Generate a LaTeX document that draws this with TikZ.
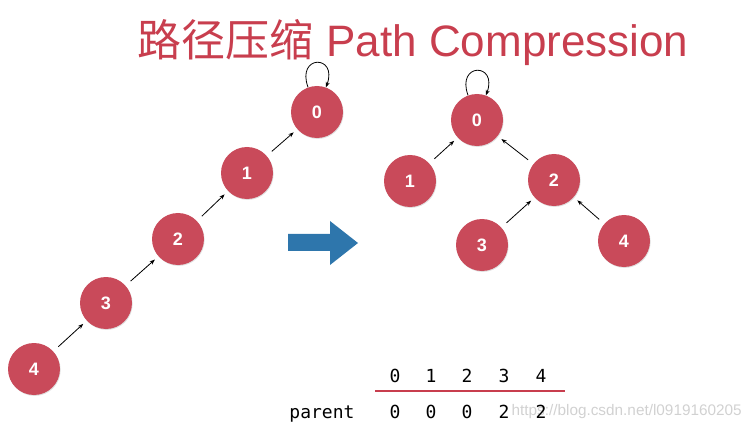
\documentclass[tikz,border=0pt]{standalone}
\usepackage{fontspec}
\setmainfont{Liberation Sans}
\setmonofont{DejaVu Sans Mono}
\newfontfamily\cjkfont{Noto Sans CJK SC}
\usetikzlibrary{arrows.meta,shadows}
\definecolor{nodered}{RGB}{201,74,90}
\definecolor{titlered}{RGB}{200,62,78}
\definecolor{arrowblue}{RGB}{46,118,172}

\begin{document}
\begin{tikzpicture}[x=0.75pt,y=-0.75pt,
  elem/.style={circle,fill=nodered,minimum size=39pt,inner sep=0pt,text=white,
    font=\fontsize{13.5}{15}\selectfont\bfseries,
    drop shadow={shadow xshift=0.5pt,shadow yshift=-0.7pt,opacity=0.25}},
  link/.style={-{Stealth[length=4pt,width=3pt]},line width=0.6pt,shorten <=5pt,shorten >=3.5pt},
  selfloop/.style={-{Stealth[length=4pt,width=3pt]},line width=0.6pt},
  cell/.style={font=\fontsize{13.5}{15}\selectfont\ttfamily,anchor=base,inner sep=0pt}]
  \useasboundingbox (0,0) rectangle (751,428);

  % title
  \node[anchor=base west,text=titlered,font=\fontsize{33}{36}\selectfont,inner sep=0pt]
    (title) at (137,57) {{\cjkfont 路径压缩}\hspace{0.3em}Path Compression};

  % before: a chain
  \node[elem] (a0) at (317,112) {0};
  \node[elem] (a1) at (247,173) {1};
  \node[elem] (a2) at (178,239) {2};
  \node[elem] (a3) at (106,303) {3};
  \node[elem] (a4) at (34,369) {4};
  \draw[link] (a4) -- (a3);
  \draw[link] (a3) -- (a2);
  \draw[link] (a2) -- (a1);
  \draw[link] (a1) -- (a0);
  \draw[selfloop] (a0.110) to[out=110,in=70,looseness=5] (a0.70);

  % big arrow
  \fill[arrowblue] (288,234) -- (330,234) -- (330,221) -- (358,243)
    -- (330,265) -- (330,251) -- (288,251) -- cycle;

  % after: flat tree
  \node[elem] (b0) at (477,120) {0};
  \node[elem] (b1) at (410,181) {1};
  \node[elem] (b2) at (554,180) {2};
  \node[elem] (b3) at (482,245) {3};
  \node[elem] (b4) at (624,241) {4};
  \draw[link] (b1) -- (b0);
  \draw[link] (b2) -- (b0);
  \draw[link] (b3) -- (b2);
  \draw[link] (b4) -- (b2);
  \draw[selfloop] (b0.110) to[out=110,in=70,looseness=5] (b0.70);

  % parent array
  \node[anchor=base east,text=black!18,font=\fontsize{11.5}{13}\selectfont,inner sep=0pt]
    (mark) at (742,415) {https://blog.csdn.net/l0919160205};
  \foreach \i/\x in {0/395,1/431,2/467,3/504,4/541}
    \node[cell] (idx\i) at (\x,382) {\i};
  \draw[titlered,line width=1.5pt] (375,391) -- (565,391);
  \node[cell] (lbl) at (322,418) {parent};
  \foreach \i/\x/\p in {0/395/0,1/431/0,2/467/0,3/504/2,4/541/2}
    \node[cell] (par\i) at (\x,418) {\p};
\end{tikzpicture}
\end{document}
